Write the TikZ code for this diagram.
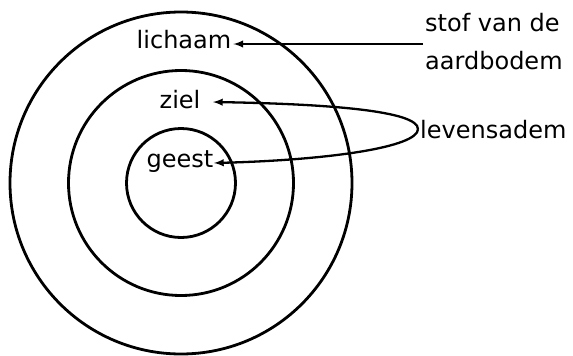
\documentclass[tikz,border=0pt]{standalone}
\usepackage{fontspec}
\setmainfont{DejaVu Sans}

\begin{document}
\begin{tikzpicture}[> = latex, x = 1pt, y = -1pt,
	ring/.style = {line width = 2.8pt},
	pointer/.style = {->, line width = 2.3pt},
	word/.style = {font = \fontsize{24}{38}\selectfont, inner sep = 2pt}]

	\useasboundingbox (0, 0) rectangle (573, 356);

	% Three rings round one centre
	
	\coordinate (centre) at (181, 183);
	\foreach \r in {171, 112.5, 54.5}
		\draw [ring] (centre) circle [radius = \r pt];
	
	% Labels inside the rings
	
	\node [word, anchor = base] (lichaam) at (184, 48) {lichaam};
	\node [word, anchor = base] (ziel) at (180, 108) {ziel};
	\node [word, anchor = base] (geest) at (180, 167) {geest};
	
	% Labels on the right
	
	\node [word, anchor = west, align = left] (stof) at (423, 42) {stof van de\\aardbodem};
	\node [word, anchor = base west] (adem) at (418, 138) {levensadem};
	
	% Arrow to the outer ring
	
	\draw [pointer] (stof.west |- 0, 44) -- (lichaam.east |- 0, 44);
	
	% Loop to the two inner rings
	
	\coordinate (ziel tip) at (213, 102);
	\coordinate (geest tip) at (214, 163);
	\draw [pointer] (adem.west) .. controls +(0, -18) and (330, 104) .. (ziel tip);
	\draw [pointer] (adem.west) .. controls +(0, 18) and (330, 160) .. (geest tip);
	
\end{tikzpicture}
\end{document}
